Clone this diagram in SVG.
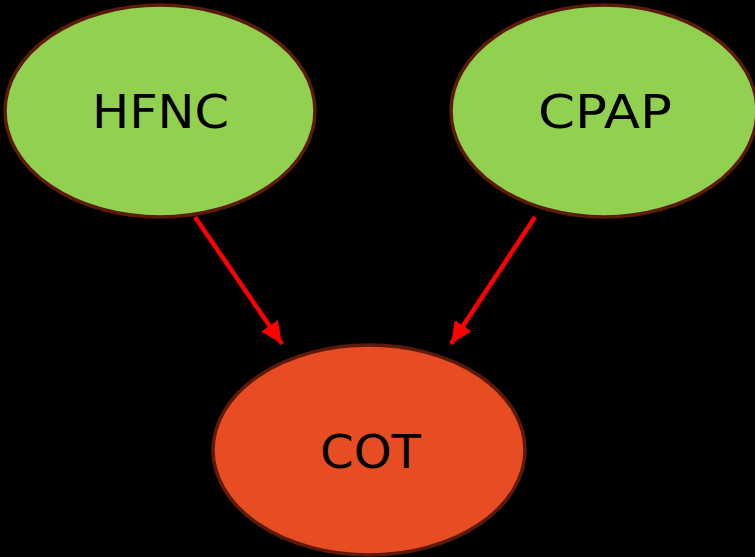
<svg xmlns="http://www.w3.org/2000/svg" width="755" height="557" viewBox="0 0 755 557">
  <style>
    .node { stroke: #5c1a0b; stroke-width: 3.5; }
    .green { fill: #92d050; }
    .orange { fill: #e84c22; }
    .label { font-family: "DejaVu Sans", "Noto Sans", sans-serif; font-size: 46px; fill: #000000; }
    .edge { stroke: #ff0000; stroke-width: 4.5; fill: none; }
  </style>
  <defs>
    <marker id="arrow" viewBox="0 0 22 20" refX="22" refY="10" markerWidth="22" markerHeight="20" markerUnits="userSpaceOnUse" orient="auto">
      <path d="M0,0 L22,10 L0,20 Z" fill="#ff0000"/>
    </marker>
  </defs>
  <rect x="0" y="0" width="755" height="557" fill="#000000"/>

  <g id="connectors">
    <line class="edge" x1="195" y1="217" x2="282" y2="344" marker-end="url(#arrow)"/>
    <line class="edge" x1="535" y1="217" x2="451" y2="344" marker-end="url(#arrow)"/>
  </g>

  <g id="node-hfnc">
    <ellipse class="node green" cx="160" cy="111" rx="155" ry="106"/>
    <text class="label" x="92" y="128" textLength="137" lengthAdjust="spacingAndGlyphs">HFNC</text>
  </g>

  <g id="node-cpap">
    <ellipse class="node green" cx="604" cy="111" rx="153" ry="106"/>
    <text class="label" x="538" y="128" textLength="134" lengthAdjust="spacingAndGlyphs">CPAP</text>
  </g>

  <g id="node-cot">
    <ellipse class="node orange" cx="369" cy="450" rx="156" ry="105"/>
    <text class="label" x="320" y="468" textLength="101" lengthAdjust="spacingAndGlyphs">COT</text>
  </g>
</svg>
